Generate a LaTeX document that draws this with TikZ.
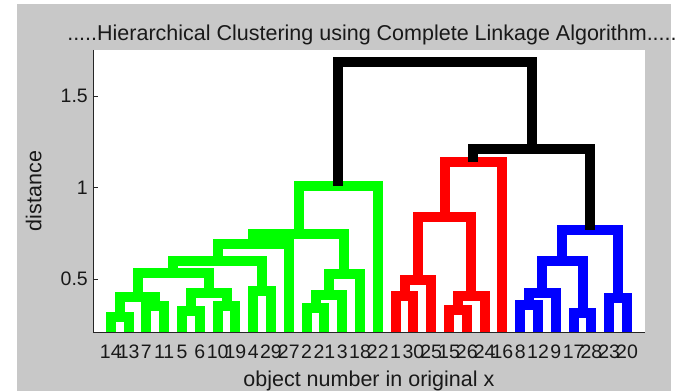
\documentclass[tikz,border=0pt]{standalone}
\usepackage{fontspec}
\setmainfont{Liberation Sans}
\definecolor{figgray}{RGB}{200,200,200}
\definecolor{mgreen}{RGB}{0,255,0}
\definecolor{mred}{RGB}{255,0,0}
\definecolor{mblue}{RGB}{0,0,255}
\newcommand\dlink[6]{\draw[dline,#1] (#2,#3) -- (#2,#6) -- (#4,#6) -- (#4,#5);}
\tikzset{
  dline/.style={line width=10pt, line join=miter, line cap=butt},
  ticklbl/.style={font=\fontsize{19.5}{22}\selectfont, inner sep=0pt, text=black!90},
  biglbl/.style={font=\fontsize{21.5}{25}\selectfont, inner sep=0pt, text=black!90},
  axisline/.style={draw=black!85, line width=1pt}
}
\begin{document}
\begin{tikzpicture}[x=1pt,y=1pt]
\useasboundingbox (0,0) rectangle (683,-391);
\fill[white] (0,0) rectangle (683,-391);
\fill[figgray] (17,-4) rectangle (671,-391);
\node[biglbl, anchor=base] (title) at (372,-40) {.....Hierarchical Clustering using Complete Linkage Algorithm.....};
\node[biglbl, anchor=base, rotate=90] (ylab) at (41.5,-191) {distance};
\begin{scope}[shift={(93pt,-370.5pt)}, x=17.8pt, y=183pt]
  \fill[white] (0,0.2104) rectangle (31,1.7514);
  \begin{scope}
    \clip (0,0.2104) rectangle (31,1.7514);
    % green cluster
    \dlink{mgreen}{1}{0}{2}{0}{0.29}
    \dlink{mgreen}{3}{0}{4}{0}{0.35}
    \dlink{mgreen}{1.5}{0.29}{3.5}{0.35}{0.40}
    \dlink{mgreen}{5}{0}{6}{0}{0.325}
    \dlink{mgreen}{7}{0}{8}{0}{0.35}
    \dlink{mgreen}{5.5}{0.325}{7.5}{0.35}{0.426}
    \dlink{mgreen}{2.5}{0.40}{6.5}{0.426}{0.534}
    \dlink{mgreen}{9}{0}{10}{0}{0.434}
    \dlink{mgreen}{4.5}{0.534}{9.5}{0.434}{0.598}
    \dlink{mgreen}{7}{0.598}{11}{0}{0.692}
    \dlink{mgreen}{12}{0}{13}{0}{0.34}
    \dlink{mgreen}{12.5}{0.34}{14}{0}{0.41}
    \dlink{mgreen}{13.25}{0.41}{15}{0}{0.525}
    \dlink{mgreen}{9}{0.692}{14.125}{0.525}{0.746}
    \dlink{mgreen}{11.5625}{0.746}{16}{0}{1.008}
    % red cluster
    \dlink{mred}{17}{0}{18}{0}{0.407}
    \dlink{mred}{17.5}{0.407}{19}{0}{0.497}
    \dlink{mred}{20}{0}{21}{0}{0.333}
    \dlink{mred}{20.5}{0.333}{22}{0}{0.407}
    \dlink{mred}{18.25}{0.497}{21.25}{0.407}{0.84}
    \dlink{mred}{19.75}{0.84}{23}{0}{1.14}
    % blue cluster
    \dlink{mblue}{24}{0}{25}{0}{0.36}
    \dlink{mblue}{24.5}{0.36}{26}{0}{0.425}
    \dlink{mblue}{27}{0}{28}{0}{0.315}
    \dlink{mblue}{25.25}{0.425}{27.5}{0.315}{0.60}
    \dlink{mblue}{29}{0}{30}{0}{0.397}
    \dlink{mblue}{26.375}{0.60}{29.5}{0.397}{0.77}
    % black links
    \dlink{black}{21.375}{1.14}{27.9375}{0.77}{1.213}
    \dlink{black}{13.78125}{1.008}{24.65625}{1.213}{1.687}
  \end{scope}
  % axes
  \coordinate (o) at (0,0.2104);
  \coordinate (top) at (0,1.7514);
  \coordinate (xr) at (31,0.2104);
  \draw[axisline] (top) -- (o) -- (xr);
  \foreach \v/\t in {0.5/0.5, 1/1, 1.5/1.5}{
    \draw[axisline] (0,\v) -- ++(5pt,0);
    \node[ticklbl, anchor=east] (tick\t) at ([xshift=-5pt]0,\v) {\t};
  }
  \foreach \lab [count=\i] in {14,13,7,11,5,6,10,19,4,29,27,2,21,3,18,22,1,30,25,15,26,24,16,8,12,9,17,28,23,20}{
    \node[ticklbl, anchor=base] (leaf\i) at (\i,0.0683) {\lab};
  }
  \node[biglbl, anchor=base] (xlab) at (15.5,-0.090) {object number in original x};
\end{scope}
\end{tikzpicture}
\end{document}
